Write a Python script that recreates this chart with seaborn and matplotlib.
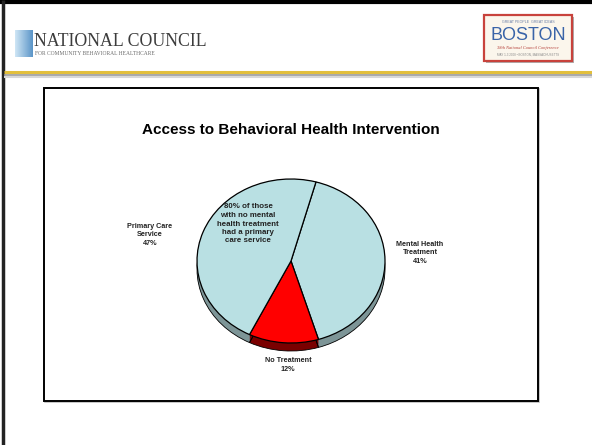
import numpy as np
import matplotlib
matplotlib.use("Agg")
import matplotlib.pyplot as plt
from matplotlib.patches import Rectangle
import seaborn as sns

# Survey shares by type of service received
categories = ["Mental Health\nTreatment", "No Treatment", "Primary Care\nService"]
shares = [41, 12, 47]
face_colors = ["#b9e0e3", "#ff0000", "#b9e0e3"]
side_colors = ["#7d9597", "#7a0000", "#7d9597"]
title = "Access to Behavioral Health Intervention"
note = "80% of those\nwith no mental\nhealth treatment\nhad a primary\ncare service"

sns.set_style("white")
plt.rcParams["font.family"] = ["Liberation Sans", "DejaVu Sans"]

W, H = 592, 445
fig = plt.figure(figsize=(W / 100, H / 100), dpi=100)
fig.patch.set_facecolor("white")

# Background layer in pixel coordinates (origin top-left)
bg = fig.add_axes([0, 0, 1, 1], zorder=0)
bg.set_xlim(0, W)
bg.set_ylim(H, 0)
bg.axis("off")

# Slide frame
bg.plot([0, W], [1.5, 1.5], color="black", lw=3, solid_capstyle="butt")
bg.plot([2.5, 2.5], [0, H], color="#222222", lw=2.5, solid_capstyle="butt")

# Header rule
bg.plot([4, W], [72, 72], color="#e2bf3c", lw=2.2, solid_capstyle="butt")
bg.plot([4, W], [74.5, 74.5], color="#9a9a9a", lw=1.2, solid_capstyle="butt")
bg.plot([4, W], [76.5, 76.5], color="#d8d8d8", lw=1.5, solid_capstyle="butt")

# National Council logo
grad = np.linspace(0, 1, 64).reshape(1, -1)
bg.imshow(grad, extent=(15, 33, 57, 30), cmap=matplotlib.colors.LinearSegmentedColormap.from_list(
    "logo", ["#cfe6f5", "#5b95c8"]), aspect="auto", zorder=1)
bg.text(34, 46, "NATIONAL COUNCIL", family=["Liberation Serif", "DejaVu Serif"],
        fontsize=12.8, color="#3c3c3c", va="baseline", ha="left")
bg.text(35, 55, "FOR COMMUNITY BEHAVIORAL HEALTHCARE", family=["Liberation Serif", "DejaVu Serif"],
        fontsize=4.0, color="#6a6a6a", va="baseline", ha="left")

# Boston conference logo
bg.add_patch(Rectangle((486, 17), 88, 46, facecolor="#b0b0b0", edgecolor="none", zorder=1))
bg.add_patch(Rectangle((484, 15), 88, 46, facecolor="#fbf6ec", edgecolor="#c8423c", lw=1.6, zorder=2))
bg.text(528, 22, "GREAT PEOPLE  GREAT IDEAS", fontsize=2.6, color="#6a7fa8",
        ha="center", va="center", zorder=3)
bg.text(528, 35, "BOSTON", fontsize=13, color="#3a64a8", ha="center", va="center", zorder=3)
bg.text(528, 48, "38th National Council Conference", fontsize=3.2, color="#b33b35",
        style="italic", ha="center", va="center", zorder=3,
        family=["Liberation Serif", "DejaVu Serif"])
bg.text(528, 55, "MAY 1-3 2008 \u2022 BOSTON, MASSACHUSETTS", fontsize=2.2, color="#8a8a8a",
        ha="center", va="center", zorder=3)

# Chart frame
bg.add_patch(Rectangle((45, 89), 494, 313, facecolor="none", edgecolor="#bdbdbd", lw=1.2))
bg.add_patch(Rectangle((44, 88), 494, 313, facecolor="white", edgecolor="black", lw=1.4))

bg.text(291, 130, title, fontsize=11, fontweight="bold", ha="center", va="center", color="black")

# Pie (slightly tilted, drawn as an ellipse with a shallow side wall)
cx, cy, rx, ry, depth = 291, 261, 94, 82, 8
d = depth / ry
left = (cx - rx) / W
bottom = (H - (cy + ry + depth)) / H
ax = fig.add_axes([left, bottom, 2 * rx / W, (2 * ry + depth) / H], zorder=1)

start = 74.6
for off in np.linspace(d, 0.0, 12):
    ax.pie(shares, colors=side_colors, startangle=start, counterclock=False,
           center=(0, -off), radius=1, frame=True,
           wedgeprops=dict(edgecolor="none", linewidth=0))
ax.pie(shares, colors=["none"] * 3, startangle=start, counterclock=False,
       center=(0, -d), radius=1, frame=True,
       wedgeprops=dict(edgecolor="black", linewidth=0.6))
ax.pie(shares, colors=face_colors, startangle=start, counterclock=False,
       center=(0, 0), radius=1, frame=True,
       wedgeprops=dict(edgecolor="black", linewidth=0.9))
ax.set_xlim(-1, 1)
ax.set_ylim(-1 - d, 1)
ax.set_aspect("auto")
ax.axis("off")

# Category labels
label_pos = [(420, 253), (288, 365), (150, 235)]
for cat, val, (lx, ly) in zip(categories, shares, label_pos):
    bg.text(lx, ly, f"{cat}\n{val}%", fontsize=5.2, fontweight="bold", ha="center",
            va="center", color="#222222", linespacing=1.25)

fig.text(248 / W, 1 - 224 / H, note, fontsize=5.7, fontweight="bold", ha="center",
         va="center", color="#222222", linespacing=1.3, zorder=5)

fig.savefig("out.png", dpi=100)
